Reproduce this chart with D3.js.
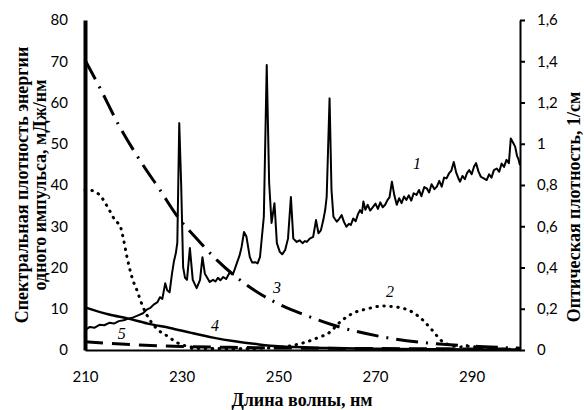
<!DOCTYPE html>
<html>
<head>
<meta charset="utf-8">
<script src="https://cdn.jsdelivr.net/npm/d3@7/dist/d3.min.js"></script>
<style>
	body { margin: 0; background: #fff; }
	.tick text { font-family: Lato, "Open Sans", sans-serif; font-size: 15px; fill: #000; }
	.title { font-family: "Liberation Serif", "DejaVu Serif", serif; font-weight: bold; font-size: 18px; }
	.curve-label { font-family: "Liberation Serif", serif; font-style: italic; font-size: 16px; }
</style>
</head>
<body>
<div id="chart"></div>
<script>
// wavelength ticks and axis ticks
var xTicks = [210, 230, 250, 270, 290];
var leftTicks = [0, 10, 20, 30, 40, 50, 60, 70, 80];
var rightTicks = [0, 0.2, 0.4, 0.6, 0.8, 1, 1.2, 1.4, 1.6];
var curveNames = ["1", "2", "3", "4", "5"];

// 1 - spectral energy density, mJ/nm (left axis)
var spectrum = [
	[210, 4.8], [211, 5.6], [212, 5.4], [213, 6.1], [214, 6.0], [215, 6.6], [216, 6.4], [217, 7.0],
	[218, 7.2], [219, 7.6], [220, 7.9], [221, 8.4], [222, 8.9], [222.8, 9.8], [223.5, 10.2], [224.2, 11.0],
	[225, 11.6], [225.5, 12.8], [226, 12.4], [226.6, 16.2], [227, 14.5], [227.5, 14.0], [228, 18.5],
	[228.4, 21.5], [228.8, 23.5], [229.1, 26], [229.5, 55], [229.9, 40], [230.3, 20.1], [230.7, 17.5],
	[231.1, 17.0], [231.7, 24.7], [232.3, 17.0], [233.1, 15.0], [233.8, 17], [234.3, 22.5], [234.8, 18.5],
	[235.2, 17.7], [235.8, 16.5], [236.5, 17.0], [237, 16.6], [237.5, 17.5], [238, 16.9], [238.6, 17.7],
	[239.2, 17.2], [240, 18.9], [240.6, 18.3], [241.4, 21], [242, 23], [242.4, 25], [242.9, 28.6],
	[243.4, 27.5], [244.1, 22.5], [244.6, 21.2], [245.2, 21.3], [245.7, 21.0], [246.2, 22.5], [246.6, 27.4],
	[247, 32.3], [247.6, 69.1], [248.1, 40.5], [248.6, 30.8], [249.2, 35.6], [249.7, 25.9], [250.3, 23.8],
	[250.8, 23.2], [251.4, 24.2], [252, 27], [252.6, 37.1], [253.1, 27], [253.8, 26.2], [254.4, 26.6],
	[255, 25.9], [255.5, 26.4], [255.9, 26.2], [256.5, 27.0], [257.2, 27.4], [257.8, 31.5], [258.3, 28.3],
	[258.8, 29.0], [259.3, 31.5], [259.7, 34], [260, 37.1], [260.6, 61.0], [261, 38.8], [261.4, 32.3],
	[262.1, 31.1], [262.6, 31.8], [263.1, 32.7], [263.6, 31.0], [264.1, 29.9], [264.6, 30.6], [265, 30.3],
	[265.5, 31.9], [266, 31.2], [266.5, 33.0], [266.9, 33.9], [267.3, 33.2], [267.6, 36.0], [268, 34.0],
	[268.5, 35.2], [269, 33.8], [269.6, 34.7], [270.1, 35.5], [270.6, 34.2], [271.1, 35.8], [271.6, 34.6],
	[272.1, 35.2], [272.6, 36.4], [273, 37.0], [273.5, 40.8], [274, 37.5], [274.5, 35.2], [275, 36.8],
	[275.5, 35.6], [276, 37.2], [276.5, 36.4], [277, 37.5], [277.5, 36.2], [278, 38.0], [278.6, 37.6],
	[279.1, 38.8], [279.6, 37.3], [280.2, 39.5], [280.7, 39.2], [281.2, 38.2], [281.7, 40.2], [282.3, 39.0],
	[282.8, 39.6], [283.3, 41.0], [283.8, 39.6], [284.3, 41.8], [284.8, 41.6], [285.3, 42.8], [285.8, 43.5],
	[286.3, 45.6], [286.8, 43.0], [287.3, 41.5], [287.6, 40.8], [288.1, 42.2], [288.6, 41.4], [289, 42.8],
	[289.5, 43.6], [290, 42.6], [290.5, 44.5], [290.9, 45.3], [291.4, 43.3], [291.9, 42.0], [292.5, 41.6],
	[293.1, 41.2], [293.6, 42.6], [294.1, 41.8], [294.6, 43.6], [295.2, 44.0], [295.7, 43.2], [296.2, 45.2],
	[296.7, 44.4], [297.2, 46.1], [297.7, 45.3], [298.1, 51.3], [298.6, 50.2], [299, 49.3], [299.4, 47.0],
	[299.7, 46.2], [300, 44.8]
];

// optical density, 1/cm (right axis)
var dottedLeft = [
	[210, 0.776], [211, 0.775], [213, 0.752], [215, 0.68], [216.2, 0.63], [216.8, 0.616], [217.2, 0.606],
	[217.9, 0.544], [218.7, 0.45], [219.7, 0.354], [220.8, 0.286], [222, 0.208], [223.4, 0.146],
	[224.9, 0.102], [227, 0.068], [229.2, 0.034], [232.3, 0.014], [238, 0.006], [245, 0.005]
];
var curve2 = [
	[232, 0.008], [240, 0.006], [248, 0.010], [252, 0.018], [255.1, 0.034], [258, 0.058], [260.7, 0.087],
	[262.8, 0.136], [265.5, 0.179], [268.3, 0.199], [271.5, 0.213], [274.6, 0.208], [277.7, 0.184],
	[279.9, 0.145], [281.8, 0.097], [284.1, 0.039], [287.6, 0.015], [289.7, 0.019], [292, 0.008],
	[296, 0.004], [300, 0.003]
];
var curve3 = [
	[210, 1.406], [213.1, 1.270], [217.2, 1.081], [222, 0.897], [225.5, 0.776], [229.2, 0.645],
	[232.8, 0.548], [237.3, 0.436], [242.1, 0.339], [246.6, 0.267], [251.8, 0.204], [254.5, 0.179],
	[261.3, 0.121], [271.7, 0.063], [280.8, 0.034], [293.8, 0.015], [298.6, 0.010], [300, 0.009]
];
var curve4 = [
	[210, 0.207], [215, 0.172], [219, 0.152], [223, 0.128], [227.6, 0.107], [232, 0.083], [236.5, 0.060],
	[241, 0.042], [246, 0.027], [250, 0.018], [260, 0.010], [270, 0.006], [280, 0.004], [290, 0.003], [300, 0.002]
];
var curve5 = [
	[210, 0.040], [215, 0.032], [220, 0.026], [225, 0.021], [230, 0.017], [240, 0.013], [250, 0.010],
	[260, 0.008], [270, 0.007], [280, 0.006], [290, 0.005], [300, 0.004]
];

var width = 584, height = 410;
var svg = d3.select("#chart").append("svg")
	.attr("width", width)
	.attr("height", height);

var x = d3.scaleLinear().domain([210, 300]).range([85, 520]);
var yL = d3.scaleLinear().domain([0, 80]).range([350, 20]);
var yR = d3.scaleLinear().domain([0, 1.6]).range([350, 20]);

var lineL = d3.line().x(function (d) { return x(d[0]); }).y(function (d) { return yL(d[1]); });
var smoothR = d3.line().curve(d3.curveMonotoneX)
	.x(function (d) { return x(d[0]); }).y(function (d) { return yR(d[1]); });

var curves = svg.append("g").attr("fill", "none").attr("stroke", "#000");

curves.append("path").datum(curve5)
	.attr("d", smoothR)
	.attr("stroke-width", 3)
	.attr("stroke-dasharray", "18,9");
curves.append("path").datum(curve4)
	.attr("d", smoothR)
	.attr("stroke-width", 2.5);
curves.append("path").datum(curve3)
	.attr("d", smoothR)
	.attr("stroke-width", 3)
	.attr("stroke-dasharray", "22,8,2,8");
curves.append("path").datum(dottedLeft)
	.attr("d", smoothR)
	.attr("stroke-width", 3)
	.attr("stroke-linecap", "round")
	.attr("stroke-dasharray", "0.5,6.5");
curves.append("path").datum(curve2)
	.attr("d", smoothR)
	.attr("stroke-width", 3)
	.attr("stroke-linecap", "round")
	.attr("stroke-dasharray", "0.5,6.5");
curves.append("path").datum(spectrum)
	.attr("d", lineL)
	.attr("stroke-width", 2)
	.attr("stroke-linejoin", "round");

// curve numbers, placed in data units
var labelAt = [[278.7, 45.3, "L"], [273.1, 0.283, "R"], [249.7, 0.305, "R"], [236.9, 0.121, "R"], [217.6, 0.081, "R"]];
svg.append("g").selectAll("text")
	.data(curveNames)
	.join("text")
	.attr("class", "curve-label")
	.attr("x", function (d, i) { return x(labelAt[i][0]); })
	.attr("y", function (d, i) { return labelAt[i][2] === "L" ? yL(labelAt[i][1]) : yR(labelAt[i][1]); })
	.attr("text-anchor", "middle")
	.attr("dominant-baseline", "central")
	.text(function (d) { return d; });

// axes
var fmtR = function (v) { return String(v).replace(".", ","); };

var bottom = svg.append("g")
	.attr("transform", "translate(0,350)")
	.call(d3.axisBottom(x).tickValues(xTicks).tickSize(0).tickSizeOuter(0).tickPadding(21));
bottom.select(".domain").attr("stroke-width", 2);

var left = svg.append("g")
	.attr("transform", "translate(85,0)")
	.call(d3.axisLeft(yL).tickValues(leftTicks).tickSize(0).tickSizeOuter(0).tickPadding(17));
left.select(".domain").attr("stroke-width", 4);

var right = svg.append("g")
	.attr("transform", "translate(520,0)")
	.call(d3.axisRight(yR).tickValues(rightTicks).tickFormat(fmtR).tickSize(5).tickSizeOuter(0).tickPadding(12));
right.select(".domain").attr("stroke-width", 2);
right.selectAll(".tick line").attr("stroke-width", 2);

// titles
svg.append("text").attr("class", "title")
	.attr("transform", "translate(28,185) rotate(-90)")
	.attr("text-anchor", "middle")
	.text("Спектральная плотность энергии");
svg.append("text").attr("class", "title")
	.attr("transform", "translate(46,185) rotate(-90)")
	.attr("text-anchor", "middle")
	.text("одного импульса, мДж/нм");
svg.append("text").attr("class", "title")
	.attr("transform", "translate(580,207) rotate(-90)")
	.attr("text-anchor", "middle")
	.text("Оптическая плотность, 1/см");
svg.append("text").attr("class", "title")
	.attr("x", 302)
	.attr("y", 406)
	.attr("text-anchor", "middle")
	.text("Длина волны, нм");
</script>
</body>
</html>
